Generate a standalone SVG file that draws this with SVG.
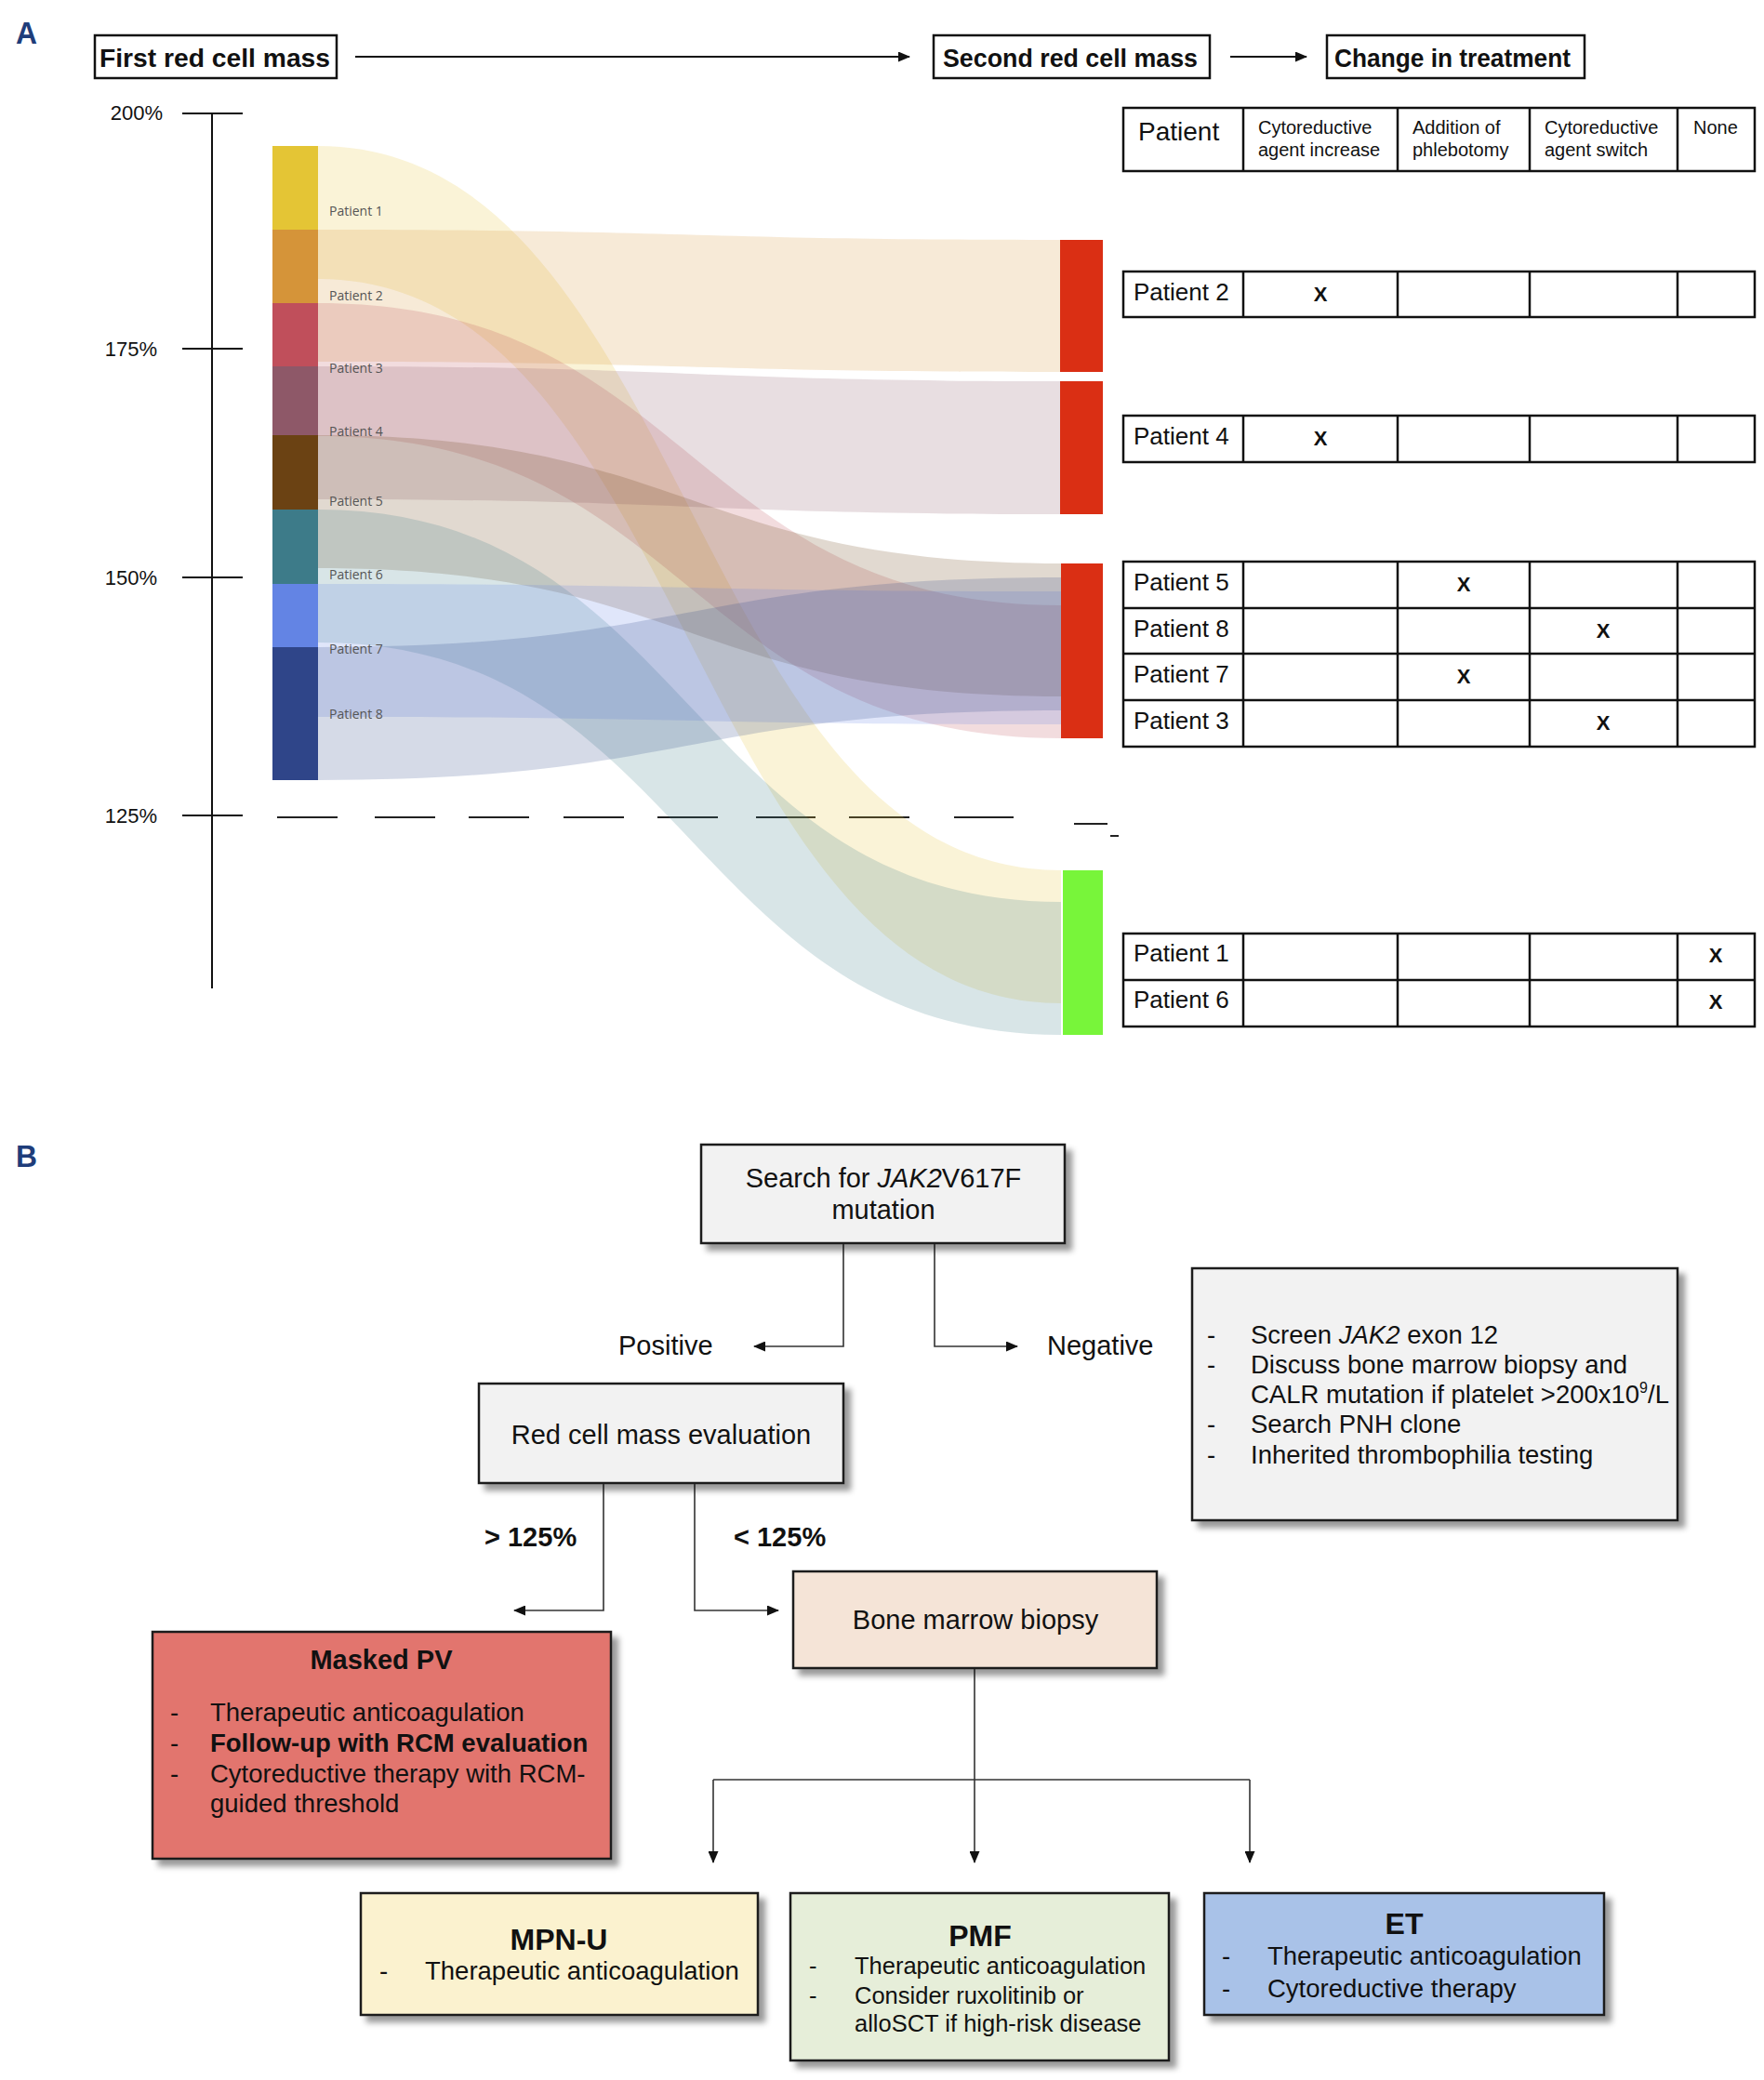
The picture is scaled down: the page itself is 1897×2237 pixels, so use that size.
<svg xmlns="http://www.w3.org/2000/svg" width="1897" height="2237" viewBox="0 0 1897 2237">
<style>
text{font-family:"Liberation Sans",Arial,sans-serif;fill:#111}
.hdr{font-size:27px;font-weight:bold}
.ax{font-size:22px}
.pl{font-family:"Open Sans","Liberation Sans",sans-serif;font-size:14px;fill:#555}
.flow{fill-opacity:0.2}
.tb{fill:none;stroke:#111;stroke-width:2.5}
.th{font-size:20px}
.tr{font-size:26px}
.tx{font-size:22px;text-anchor:middle;font-weight:bold}
.box{stroke:#1a1a1a;stroke-width:2.5;filter:url(#sh)}
.lbl{font-size:29px}
.li{font-size:27.5px}
.lis{font-size:25.5px}
.ttl{font-size:32px;font-weight:bold;text-anchor:middle}
.con{fill:none;stroke:#333;stroke-width:1.6}
.ahdr{fill:none;stroke:#111;stroke-width:2}
</style>
<defs>
<filter id="sh" x="-10%" y="-10%" width="130%" height="130%">
<feDropShadow dx="7" dy="7" stdDeviation="3" flood-color="#000" flood-opacity="0.4"/>
</filter>
<marker id="ar" markerUnits="userSpaceOnUse" markerWidth="13" markerHeight="11" refX="12" refY="5.5" orient="auto">
<path d="M0,0 L13,5.5 L0,11 z" fill="#111"/>
</marker>
</defs>
<rect width="1897" height="2237" fill="#fff"/>

<!-- Panel A -->
<text x="17" y="47" font-size="33" font-weight="bold" style="fill:#1f3d7a" textLength="23" lengthAdjust="spacingAndGlyphs">A</text>

<g id="hdr-first"><rect x="102" y="38" width="260" height="46" class="tb"/><text x="107" y="72" class="hdr" textLength="248" lengthAdjust="spacingAndGlyphs">First red cell mass</text></g>
<g id="hdr-second"><rect x="1004" y="38" width="297" height="46" class="tb"/><text x="1014" y="72" class="hdr" textLength="274" lengthAdjust="spacingAndGlyphs">Second red cell mass</text></g>
<g id="hdr-change"><rect x="1427" y="38" width="277" height="46" class="tb"/><text x="1435" y="72" class="hdr" textLength="254" lengthAdjust="spacingAndGlyphs">Change in treatment</text></g>

<g id="axis">
<line x1="228" y1="122" x2="228" y2="1063" stroke="#111" stroke-width="2"/>
<path d="M196,122H261M196,375H261M196,621H261M196,877H261" stroke="#111" stroke-width="2"/>
<text x="175" y="129" class="ax" text-anchor="end">200%</text>
<text x="169" y="383" class="ax" text-anchor="end">175%</text>
<text x="169" y="629" class="ax" text-anchor="end">150%</text>
<text x="169" y="885" class="ax" text-anchor="end">125%</text>
<path d="M298,879H363M403,879H468M504,879H569M606,879H671M707,879H772M813,879H877M913,879H978M1026,879H1090M1155,886H1191M1194,899H1203" stroke="#222" stroke-width="1.8"/>
</g>

<g id="flows">
<path class="flow" fill="#e4c535" d="M342,157 C741.5,157 741.5,936 1141,936 L1141,1079 C741.5,1079 741.5,300 342,300 Z"/>
<path class="flow" fill="#d59439" d="M342,247 C741.5,247 741.5,258 1141,258 L1141,400 C741.5,400 741.5,389 342,389 Z"/>
<path class="flow" fill="#c04f5b" d="M342,326 C741.5,326 741.5,651 1141,651 L1141,794 C741.5,794 741.5,469 342,469 Z"/>
<path class="flow" fill="#8e5868" d="M342,394 C741.5,394 741.5,410 1141,410 L1141,553 C741.5,553 741.5,537 342,537 Z"/>
<path class="flow" fill="#6b4213" d="M342,468 C741.5,468 741.5,606 1141,606 L1141,749 C741.5,749 741.5,611 342,611 Z"/>
<path class="flow" fill="#3d7b89" d="M342,548 C741.5,548 741.5,970 1141,970 L1141,1113 C741.5,1113 741.5,691 342,691 Z"/>
<path class="flow" fill="#6384e4" d="M342,628 C741.5,628 741.5,636 1141,636 L1141,779 C741.5,779 741.5,771 342,771 Z"/>
<path class="flow" fill="#2f4589" d="M342,696 C741.5,696 741.5,621 1141,621 L1141,764 C741.5,764 741.5,839 342,839 Z"/>
</g>

<g id="src-bars">
<rect x="293" y="157" width="49" height="90" fill="#e4c535"/>
<rect x="293" y="247" width="49" height="79" fill="#d59439"/>
<rect x="293" y="326" width="49" height="68" fill="#c04f5b"/>
<rect x="293" y="394" width="49" height="74" fill="#8e5868"/>
<rect x="293" y="468" width="49" height="80" fill="#6b4213"/>
<rect x="293" y="548" width="49" height="80" fill="#3d7b89"/>
<rect x="293" y="628" width="49" height="68" fill="#6384e4"/>
<rect x="293" y="696" width="49" height="143" fill="#2f4589"/>
<text class="pl" x="354" y="232">Patient 1</text>
<text class="pl" x="354" y="323">Patient 2</text>
<text class="pl" x="354" y="401">Patient 3</text>
<text class="pl" x="354" y="469">Patient 4</text>
<text class="pl" x="354" y="544">Patient 5</text>
<text class="pl" x="354" y="623">Patient 6</text>
<text class="pl" x="354" y="703">Patient 7</text>
<text class="pl" x="354" y="773">Patient 8</text>
</g>

<g id="dst-bars">
<rect x="1140" y="258" width="46" height="142" fill="#da2f14"/>
<rect x="1140" y="410" width="46" height="143" fill="#da2f14"/>
<rect x="1141" y="606" width="45" height="188" fill="#da2f14"/>
<rect x="1143" y="936" width="43" height="177" fill="#78f53a"/>
</g>

<g id="hdr-arrows">
<line x1="382" y1="61" x2="978" y2="61" class="ahdr" marker-end="url(#ar)"/>
<line x1="1323" y1="61" x2="1405" y2="61" class="ahdr" marker-end="url(#ar)"/>
</g>

<g id="table-header">
<rect x="1208" y="116" width="679" height="68" class="tb"/>
<path d="M1337,116V184M1503,116V184M1645,116V184M1804,116V184" class="tb"/>
<text x="1224" y="151" font-size="28">Patient</text>
<text class="th" x="1353" y="143.5">Cytoreductive</text>
<text class="th" x="1353" y="168">agent increase</text>
<text class="th" x="1519" y="143.5">Addition of</text>
<text class="th" x="1519" y="168">phlebotomy</text>
<text class="th" x="1661" y="143.5">Cytoreductive</text>
<text class="th" x="1661" y="168">agent switch</text>
<text class="th" x="1821" y="143.5">None</text>
</g>

<g id="table-p2">
<rect x="1208" y="292" width="679" height="49" class="tb"/>
<path d="M1337,292V341M1503,292V341M1645,292V341M1804,292V341" class="tb"/>
<text class="tr" x="1219" y="323">Patient 2</text>
<text class="tx" x="1420" y="324">X</text>
</g>

<g id="table-p4">
<rect x="1208" y="447" width="679" height="50" class="tb"/>
<path d="M1337,447V497M1503,447V497M1645,447V497M1804,447V497" class="tb"/>
<text class="tr" x="1219" y="478">Patient 4</text>
<text class="tx" x="1420" y="479">X</text>
</g>

<g id="table-red3">
<rect x="1208" y="604" width="679" height="199" class="tb"/>
<path d="M1208,654H1887M1208,703H1887M1208,753H1887M1337,604V803M1503,604V803M1645,604V803M1804,604V803" class="tb"/>
<text class="tr" x="1219" y="635">Patient 5</text>
<text class="tr" x="1219" y="685">Patient 8</text>
<text class="tr" x="1219" y="734">Patient 7</text>
<text class="tr" x="1219" y="784">Patient 3</text>
<text class="tx" x="1574" y="636">X</text>
<text class="tx" x="1724" y="686">X</text>
<text class="tx" x="1574" y="735">X</text>
<text class="tx" x="1724" y="785">X</text>
</g>

<g id="table-green">
<rect x="1208" y="1004" width="679" height="100" class="tb"/>
<path d="M1208,1054H1887M1337,1004V1104M1503,1004V1104M1645,1004V1104M1804,1004V1104" class="tb"/>
<text class="tr" x="1219" y="1034">Patient 1</text>
<text class="tr" x="1219" y="1084">Patient 6</text>
<text class="tx" x="1845" y="1035">X</text>
<text class="tx" x="1845" y="1085">X</text>
</g>

<!-- Panel B -->
<text x="17" y="1255" font-size="33" font-weight="bold" style="fill:#1f3d7a" textLength="23" lengthAdjust="spacingAndGlyphs">B</text>

<g id="connectors">
<path class="con" d="M907,1337V1448H811" marker-end="url(#ar)"/>
<path class="con" d="M1005,1337V1448H1094" marker-end="url(#ar)"/>
<path class="con" d="M649,1595V1732H553" marker-end="url(#ar)"/>
<path class="con" d="M747,1595V1732H837" marker-end="url(#ar)"/>
<path class="con" d="M1048,1794V2003" marker-end="url(#ar)"/>
<path class="con" d="M767,1914H1344"/>
<path class="con" d="M767,1914V2003" marker-end="url(#ar)"/>
<path class="con" d="M1344,1914V2003" marker-end="url(#ar)"/>
</g>

<g id="lbl-edges">
<text class="lbl" x="665" y="1457">Positive</text>
<text class="lbl" x="1126" y="1457">Negative</text>
<text class="lbl" x="521" y="1663" font-weight="bold">&gt; 125%</text>
<text class="lbl" x="789" y="1663" font-weight="bold">&lt; 125%</text>
</g>

<g id="node-search">
<rect x="754" y="1231" width="391" height="106" fill="#f2f2f2" class="box"/>
<text class="lbl" x="950" y="1277" text-anchor="middle">Search for  <tspan font-style="italic">JAK2</tspan>V617F</text>
<text class="lbl" x="950" y="1311" text-anchor="middle">mutation</text>
</g>

<g id="node-negative">
<rect x="1282" y="1364" width="522" height="271" fill="#f2f2f2" class="box"/>
<text class="li" x="1298" y="1445">-</text><text class="li" x="1345" y="1445">Screen <tspan font-style="italic">JAK2</tspan> exon 12</text>
<text class="li" x="1298" y="1477">-</text><text class="li" x="1345" y="1477">Discuss bone marrow biopsy and</text>
<text class="li" x="1345" y="1509">CALR mutation if platelet &gt;200x10<tspan font-size="16" dy="-11">9</tspan><tspan dy="11">/L</tspan></text>
<text class="li" x="1298" y="1541">-</text><text class="li" x="1345" y="1541">Search PNH clone</text>
<text class="li" x="1298" y="1574">-</text><text class="li" x="1345" y="1574">Inherited thrombophilia testing</text>
</g>

<g id="node-rcm">
<rect x="515" y="1488" width="392" height="107" fill="#f2f2f2" class="box"/>
<text class="lbl" x="711" y="1553" text-anchor="middle">Red cell mass evaluation</text>
</g>

<g id="node-bone">
<rect x="853" y="1690" width="391" height="104" fill="#f5e4d7" class="box"/>
<text class="lbl" x="1049" y="1752" text-anchor="middle">Bone marrow biopsy</text>
</g>

<g id="node-masked">
<rect x="164" y="1755" width="493" height="244" fill="#e2756e" class="box"/>
<text class="lbl" x="410" y="1795" text-anchor="middle" font-weight="bold">Masked PV</text>
<text class="li" x="183" y="1851">-</text><text class="li" x="226" y="1851">Therapeutic anticoagulation</text>
<text class="li" x="183" y="1884">-</text><text class="li" x="226" y="1884" font-weight="bold">Follow-up with RCM evaluation</text>
<text class="li" x="183" y="1917">-</text><text class="li" x="226" y="1917">Cytoreductive therapy with RCM-</text>
<text class="li" x="226" y="1949">guided threshold</text>
</g>

<g id="node-mpnu">
<rect x="388" y="2036" width="427" height="131" fill="#fbf2cf" class="box"/>
<text class="ttl" x="601" y="2097">MPN-U</text>
<text class="li" x="408" y="2129">-</text><text class="li" x="457" y="2129">Therapeutic anticoagulation</text>
</g>

<g id="node-pmf">
<rect x="850" y="2036" width="407" height="180" fill="#e6eed9" class="box"/>
<text class="ttl" x="1054" y="2093">PMF</text>
<text class="lis" x="870" y="2123">-</text><text class="lis" x="919" y="2123">Therapeutic anticoagulation</text>
<text class="lis" x="870" y="2155">-</text><text class="lis" x="919" y="2155">Consider ruxolitinib or</text>
<text class="lis" x="919" y="2185">alloSCT if high-risk disease</text>
</g>

<g id="node-et">
<rect x="1295" y="2036" width="430" height="131" fill="#a9c2e8" class="box"/>
<text class="ttl" x="1510" y="2080">ET</text>
<text class="li" x="1314" y="2113">-</text><text class="li" x="1363" y="2113">Therapeutic anticoagulation</text>
<text class="li" x="1314" y="2148">-</text><text class="li" x="1363" y="2148">Cytoreductive therapy</text>
</g>
</svg>
